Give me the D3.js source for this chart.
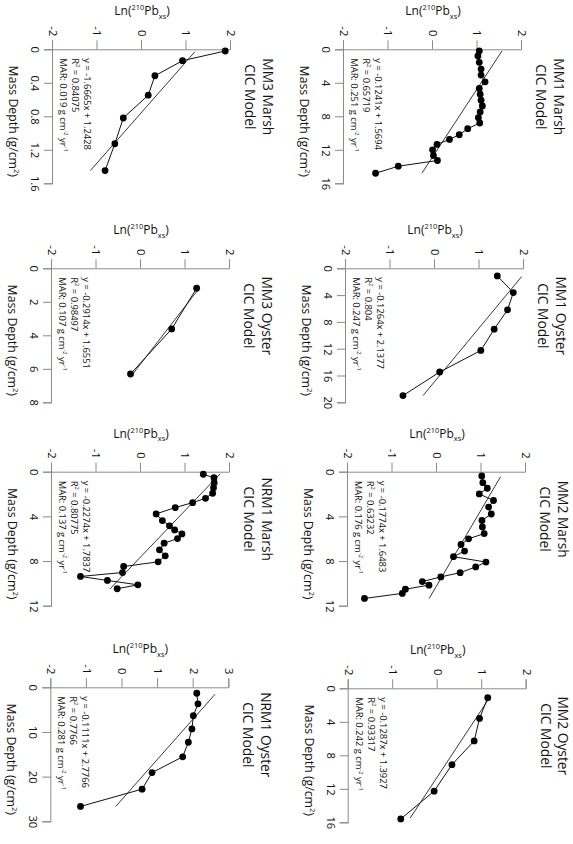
<!DOCTYPE html>
<html><head><meta charset="utf-8">
<script src="https://cdn.jsdelivr.net/npm/d3@7"></script>
<style>body{margin:0;background:#fff}svg{display:block}</style>
</head><body>
<svg id="chart" width="573" height="844"></svg>
<script>
// ---- data ----
const panelNames = ["MM1 Marsh","MM1 Oyster","MM2 Marsh","MM2 Oyster","MM3 Marsh","MM3 Oyster","NRM1 Marsh","NRM1 Oyster"];
const subTitle = "CIC Model";

const mm1MarshDepth = [0.2,0.8,1.56,2.36,3.08,3.88,4.68,5.36,6.08,6.76,7.48,8.16,8.8,9.48,10.2,10.76,11.36,12.0,12.68,13.28,13.96,14.8];
const mm1MarshLn    = [1.04,1.01,1.04,1.08,1.08,1.17,1.04,1.06,1.08,1.11,1.06,1.02,1.05,0.78,0.59,0.37,0.09,-0.01,0.01,0.10,-0.78,-1.29];
const mm1OysterDepth = [1.14,3.62,6.2,9.08,12.26,15.48,19.0];
const mm1OysterLn    = [1.40,1.76,1.63,1.33,1.03,0.105,-0.72];
const mm2MarshDepth = [0.385,0.98,1.48,1.99,2.58,3.17,3.79,4.36,4.95,5.54,6.01,6.52,7.11,7.61,8.09,8.53,9.04,9.42,9.84,10.16,10.52,10.9,11.35];
const mm2MarshLn    = [1.006,1.03,1.13,0.95,1.27,1.16,1.22,1.01,1.02,1.06,0.71,0.54,0.62,0.37,1.10,0.87,0.52,0.086,-0.33,-0.18,-0.71,-0.78,-1.63];
const mm2OysterDepth = [1.12,3.6,6.28,9.12,12.28,15.6];
const mm2OysterLn    = [1.125,0.94,0.82,0.32,-0.08,-0.83];
const mm3MarshDepth = [0.02,0.136,0.316,0.548,0.82,1.128,1.448];
const mm3MarshLn    = [1.87,0.91,0.29,0.14,-0.42,-0.61,-0.83];
const mm3OysterDepth = [1.19,3.62,6.31];
const mm3OysterLn    = [1.25,0.69,-0.236];
const nrm1MarshDepth = [0.23,0.54,0.98,1.43,1.93,2.38,2.77,3.21,3.78,4.38,4.85,5.21,5.57,5.99,6.4,7.0,7.53,8.07,8.49,9.03,9.38,9.74,10.13,10.48];
const nrm1MarshLn    = [1.40,1.64,1.645,1.63,1.61,1.45,1.16,0.77,0.34,0.48,0.64,0.755,0.92,0.82,0.52,0.415,0.545,0.385,-0.39,-0.415,-1.36,-0.755,-0.07,-0.535];
const nrm1OysterDepth = [1.33,3.7,6.37,9.33,12.3,15.56,19.1,22.8,26.67];
const nrm1OysterLn    = [2.086,2.12,1.99,1.95,1.85,1.69,0.83,0.55,-1.18];

// fitted regression line end points [depth, ln]
const fitLines = [
  [[0.2,1.55],[14.8,-0.25]],
  [[1.24,1.947],[19.0,-0.27]],
  [[0.44,1.43],[11.35,-0.176]],
  [[1.0,1.18],[15.48,-0.617]],
  [[0.028,1.19],[1.448,-1.16]],
  [[1.19,1.308],[6.31,-0.184]],
  [[0.21,1.774],[10.51,-0.70]],
  [[1.56,2.6],[26.67,-0.19]]
];

const equations = ["y = -0.1241x + 1.5694","y = -0.1264x + 2.1377","y = -0.1774x + 1.6483","y = -0.1287x + 1.3927",
                   "y = -1.6665x + 1.2428","y = -0.2914x + 1.6551","y = -0.2274x + 1.7837","y = -0.1111x + 2.7766"];
const rSquared = ["0.65719","0.804","0.63232","0.93317","0.84075","0.98497","0.80775","0.7766"];
const marValues = ["0.251","0.247","0.176","0.242","0.019","0.107","0.137","0.281"];

const xTickSets = [
  [0,4,8,12,16],[0,4,8,12,16,20],[0,4,8,12],[0,4,8,12,16],
  [0,0.4,0.8,1.2,1.6],[0,2,4,6,8],[0,4,8,12],[0,10,20,30]
];
const yTickSets = [
  [-2,-1,0,1,2],[-2,-1,0,1,2],[-2,-1,0,1,2],[-2,-1,0,1,2],
  [-2,-1,0,1,2],[-2,-1,0,1,2],[-2,-1,0,1,2],[-2,-1,0,1,2,3]
];

const depthSets = [mm1MarshDepth,mm1OysterDepth,mm2MarshDepth,mm2OysterDepth,mm3MarshDepth,mm3OysterDepth,nrm1MarshDepth,nrm1OysterDepth];
const lnSets = [mm1MarshLn,mm1OysterLn,mm2MarshLn,mm2OysterLn,mm3MarshLn,mm3OysterLn,nrm1MarshLn,nrm1OysterLn];

// ---- layout (figure drawn landscape, then turned 90deg clockwise) ----
const panelLeft = [49.3,268.3,471.7,688.3,49.3,268.3,471.7,687.3];
const panelTop  = [51,49,47,46.3,342,343,343,343.7];
const plotW = 134, plotH = 178;
const FONT = "'Open Sans', 'Noto Sans', sans-serif";
const AXIS_COLOR = "#8a8a8a", TEXT_COLOR = "#111";

const svg = d3.select("#chart");
svg.append("rect").attr("width",573).attr("height",844).attr("fill","#fff");
const root = svg.append("g").attr("transform","translate(573,0) rotate(90)");

function rich(textSel, parts, fs){
  let shift = 0;
  parts.forEach(p=>{
    const target = p.s==="sup" ? -0.42*fs : p.s==="sub" ? 0.28*fs : 0;
    textSel.append("tspan")
      .attr("dy", target - shift)
      .attr("font-size", p.s ? fs*0.62 : fs)
      .text(p.t);
    shift = target;
  });
}

panelNames.forEach((name,i)=>{
  const depth = depthSets[i], ln = lnSets[i];
  const xt = xTickSets[i], yt = yTickSets[i];
  const x = d3.scaleLinear().domain([0, xt[xt.length-1]]).range([0, plotW]);
  const y = d3.scaleLinear().domain([yt[0], yt[yt.length-1]]).range([plotH, 0]);
  const g = root.append("g").attr("transform",`translate(${panelLeft[i]},${panelTop[i]})`);

  // axes
  const fmt = v => String(v);
  const ya = g.append("g").call(d3.axisLeft(y).tickValues(yt).tickFormat(fmt).tickSize(9).tickPadding(4));
  const xa = g.append("g").attr("transform",`translate(0,${plotH})`)
     .call(d3.axisBottom(x).tickValues(xt).tickFormat(fmt).tickSize(9).tickPadding(5));
  [ya,xa].forEach(a=>{
    a.attr("font-family",FONT).attr("font-size",11.2);
    a.selectAll("path,line").attr("stroke",AXIS_COLOR).attr("stroke-width",1);
    a.selectAll("text").attr("fill",TEXT_COLOR);
  });

  // fit line
  g.append("path")
    .attr("d", d3.line().x(d=>x(d[0])).y(d=>y(d[1]))(fitLines[i]))
    .attr("stroke","#222").attr("stroke-width",0.9).attr("fill","none");

  // connecting line
  const pts = depth.map((d,k)=>[d, ln[k]]);
  g.append("path")
    .attr("d", d3.line().x(d=>x(d[0])).y(d=>y(d[1]))(pts))
    .attr("stroke","#111").attr("stroke-width",1).attr("fill","none");
  g.selectAll("circle.pt").data(pts).enter().append("circle")
    .attr("class","pt").attr("cx",d=>x(d[0])).attr("cy",d=>y(d[1])).attr("r",3.4).attr("fill","#000");

  // title
  const tg = g.append("g").attr("font-family",FONT).attr("fill",TEXT_COLOR).attr("text-anchor","middle");
  tg.append("text").attr("x",47.5).attr("y",-31.5).attr("font-size",13.8).text(name);
  tg.append("text").attr("x",47.5).attr("y",-14).attr("font-size",13.8).text(subTitle);

  // equation block
  const eg = g.append("g").attr("font-family",FONT).attr("fill",TEXT_COLOR).attr("font-size",9.4);
  eg.append("text").attr("x",9).attr("y",plotH-31).text(equations[i]);
  rich(eg.append("text").attr("x",9).attr("y",plotH-19), [{t:"R"},{t:"2",s:"sup"},{t:" = "+rSquared[i]}], 9.4);
  rich(eg.append("text").attr("x",9).attr("y",plotH-6.8),
       [{t:"MAR: "+marValues[i]+" g cm"},{t:"-2",s:"sup"},{t:" yr"},{t:"-1",s:"sup"}], 9.4);

  // axis titles
  const xl = g.append("text").attr("font-family",FONT).attr("fill",TEXT_COLOR).attr("text-anchor","middle")
    .attr("x", plotW/2+5).attr("y", plotH+44);
  rich(xl, [{t:"Mass Depth (g/cm"},{t:"2",s:"sup"},{t:")"}], 12.3);
  const yl = g.append("text").attr("font-family",FONT).attr("fill",TEXT_COLOR).attr("text-anchor","middle")
    .attr("transform",`translate(-34,${plotH/2}) rotate(-90)`);
  rich(yl, [{t:"Ln("},{t:"210",s:"sup"},{t:"Pb"},{t:"xs",s:"sub"},{t:")"}], 12);
});
</script>
</body></html>
